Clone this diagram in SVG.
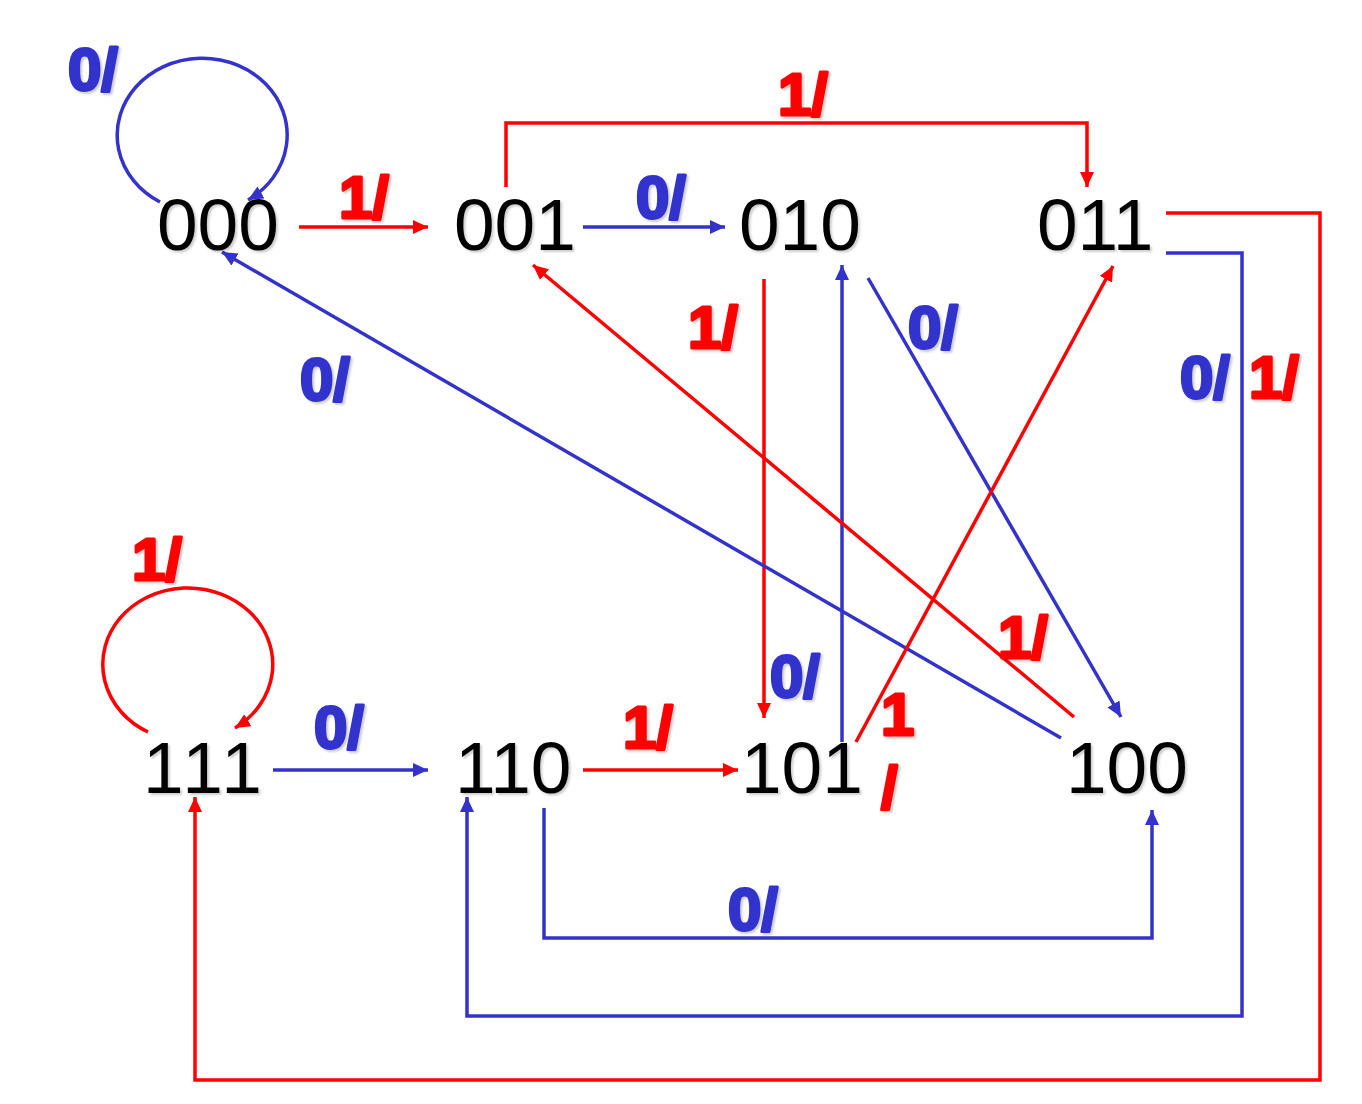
<svg xmlns="http://www.w3.org/2000/svg" width="1362" height="1104" viewBox="0 0 1362 1104">
<defs>
<filter id="sh" x="-10%" y="-10%" width="130%" height="130%">
<feDropShadow dx="2" dy="2" stdDeviation="1.2" flood-color="#000" flood-opacity="0.2"/>
</filter>
<marker id="ab" markerUnits="userSpaceOnUse" markerWidth="16" markerHeight="14" refX="15" refY="7" orient="auto">
<path d="M0,0 L15,7 L0,14 Z" fill="#3333CC"/>
</marker>
<marker id="ar" markerUnits="userSpaceOnUse" markerWidth="16" markerHeight="14" refX="15" refY="7" orient="auto">
<path d="M0,0 L15,7 L0,14 Z" fill="#FF0000"/>
</marker>
</defs>
<style>
.node{font-family:"Liberation Sans",Arial,sans-serif;font-size:73px;fill:#000;filter:url(#sh)}
.lb{font-family:"Liberation Sans",Arial,sans-serif;font-size:60px;font-weight:bold;stroke-width:3;stroke-linejoin:round;filter:url(#sh)}
.lr{fill:#FF0000;stroke:#FF0000}
.lbl{fill:#3333CC;stroke:#3333CC}
.b{fill:none;stroke:#3333CC;stroke-width:3.5}
.r{fill:none;stroke:#FF0000;stroke-width:3.5}
</style>
<rect width="1362" height="1104" fill="#fff"/>
<g id="connectors">
<path class="b" d="M160,202 A85,77 0 1 1 248,200" marker-end="url(#ab)"/>
<path class="r" d="M299,227 L428,227" marker-end="url(#ar)"/>
<path class="b" d="M583,227 L725,227" marker-end="url(#ab)"/>
<path class="r" d="M506,187 L506,123 L1087,123 L1087,187" marker-end="url(#ar)"/>
<path class="r" d="M764,279 L764,718" marker-end="url(#ar)"/>
<path class="b" d="M842,742 L842,265" marker-end="url(#ab)"/>
<path class="b" d="M868,278 L1121,717" marker-end="url(#ab)"/>
<path class="r" d="M1074,717 L533,265" marker-end="url(#ar)"/>
<path class="b" d="M1061,738 L222,252" marker-end="url(#ab)"/>
<path class="r" d="M856,742 L1113,266" marker-end="url(#ar)"/>
<path class="r" d="M1166,213 L1320,213 L1320,1080 L195,1080 L195,797" marker-end="url(#ar)"/>
<path class="b" d="M1166,253 L1242,253 L1242,1016 L467,1016 L467,797" marker-end="url(#ab)"/>
<path class="b" d="M544,808 L544,938 L1152,938 L1152,810" marker-end="url(#ab)"/>
<path class="r" d="M148,732 A85,76.5 0 1 1 235,728" marker-end="url(#ar)"/>
<path class="b" d="M273,770 L428,770" marker-end="url(#ab)"/>
<path class="r" d="M583,770 L738,770" marker-end="url(#ar)"/>
</g>
<g id="labels">
<text class="lb lbl" x="68" y="90">0/</text>
<text class="lb lr" x="339" y="218">1/</text>
<text class="lb lbl" x="636" y="218">0/</text>
<text class="lb lr" x="778" y="115">1/</text>
<text class="lb lr" x="688" y="348">1/</text>
<text class="lb lbl" x="770" y="697">0/</text>
<text class="lb lbl" x="908" y="348">0/</text>
<text class="lb lr" x="998" y="658">1/</text>
<text class="lb lbl" x="300" y="400">0/</text>
<text class="lb lr" x="881" y="735">1</text>
<text class="lb lr" x="881" y="808">/</text>
<text class="lb lr" x="1249" y="398">1/</text>
<text class="lb lbl" x="1180" y="398">0/</text>
<text class="lb lbl" x="728" y="930">0/</text>
<text class="lb lr" x="132" y="580">1/</text>
<text class="lb lbl" x="314" y="748">0/</text>
<text class="lb lr" x="623" y="748">1/</text>
</g>
<g id="n000"><text class="node" x="157" y="250">000</text></g>
<g id="n001"><text class="node" x="454" y="250">001</text></g>
<g id="n010"><text class="node" x="739" y="250">010</text></g>
<g id="n011"><text class="node" x="1037" y="250">011</text></g>
<g id="n111"><text class="node" x="143" y="793" letter-spacing="4">111</text></g>
<g id="n110"><text class="node" x="455" y="793">110</text></g>
<g id="n101"><text class="node" x="741" y="793">101</text></g>
<g id="n100"><text class="node" x="1066" y="793">100</text></g>
</svg>
